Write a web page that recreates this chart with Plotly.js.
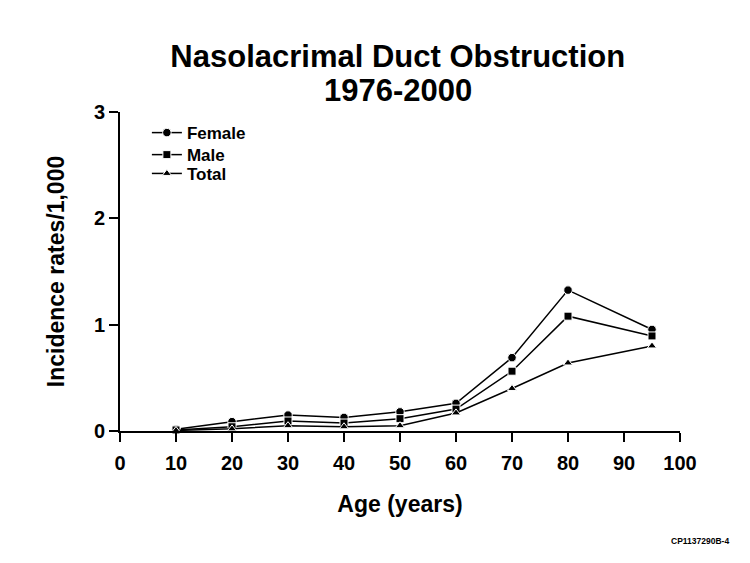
<!DOCTYPE html>
<html>
<head>
<meta charset="utf-8">
<script src="https://cdn.plot.ly/plotly-3.0.1.min.js"></script>
<style>html,body{margin:0;padding:0;background:#fff;}#chart{width:750px;height:563px;}</style>
</head>
<body>
<div id="chart"></div>
<script>
const ages = [10, 20, 30, 40, 50, 60, 70, 80, 95];
const female = [0.016, 0.088, 0.15, 0.128, 0.18, 0.26, 0.69, 1.325, 0.955];
const male = [0.01, 0.04, 0.094, 0.075, 0.116, 0.206, 0.5625, 1.08, 0.894];
const total = [0.005, 0.02, 0.05, 0.04, 0.05, 0.17, 0.40, 0.64, 0.80];
const xTicks = [0, 10, 20, 30, 40, 50, 60, 70, 80, 90, 100];
const yTicks = [0, 1, 2, 3];

const FONT = 'Liberation Sans, Arial, sans-serif';
function tr(name, y, symbol, size, legendId) {
  return {
    x: ages, y: y, name: '<b>' + name + '</b>', type: 'scatter', mode: 'lines+markers',
    line: {color: '#000', width: 1.5},
    marker: {symbol: symbol, size: size, color: '#000', line: {color: '#fff', width: 1}},
    cliponaxis: false, legend: legendId
  };
}
const data = [
  tr('Female', female, 'circle', 8.5, 'legend'),
  tr('Male', male, 'square', 8, 'legend2'),
  tr('Total', total, 'triangle-up', 8, 'legend3')
];
function leg(y) {
  return {x: 0.048, y: y, xanchor: 'left', yanchor: 'middle', bgcolor: 'rgba(0,0,0,0)',
    font: {size: 17, family: FONT}, borderwidth: 0};
}
const layout = {
  width: 750, height: 563,
  margin: {l: 120, r: 70, t: 112, b: 132},
  paper_bgcolor: '#fff', plot_bgcolor: '#fff',
  font: {family: FONT, color: '#000'},
  title: {text: '<b>Nasolacrimal Duct Obstruction</b>', font: {size: 31, family: FONT},
    xref: 'paper', x: 0.496, xanchor: 'center', yref: 'container', y: 0.9, yanchor: 'middle'},
  xaxis: {
    range: [0, 100], tickvals: xTicks, ticktext: xTicks.map(v => '<b>' + v + '</b>'),
    showgrid: false, zeroline: false, showline: true, linecolor: '#000', linewidth: 2,
    ticks: 'outside', ticklen: 9, tickwidth: 2, tickcolor: '#000', ticklabelstandoff: 4,
    tickfont: {size: 20, family: FONT},
    title: {text: '<b>Age (years)</b>', font: {size: 23, family: FONT}, standoff: 23}
  },
  yaxis: {
    range: [0, 3], tickvals: yTicks, ticktext: yTicks.map(v => '<b>' + v + '</b>'),
    showgrid: false, zeroline: false, showline: true, linecolor: '#000', linewidth: 2,
    ticks: 'outside', ticklen: 9, tickwidth: 2, tickcolor: '#000',
    tickfont: {size: 20, family: FONT},
    title: {text: '<b>Incidence rates/1,000</b>', font: {size: 23, family: FONT}, standoff: 23}
  },
  showlegend: true,
  legend: leg(0.934),
  legend2: leg(0.865),
  legend3: leg(0.806),
  annotations: [{
    text: '<b>1976-2000</b>', xref: 'paper', yref: 'paper', x: 0.496, y: 1.066,
    xanchor: 'center', yanchor: 'middle', showarrow: false, font: {size: 31, family: FONT}
  }, {
    text: '<b>CP1137290B-4</b>', xref: 'paper', yref: 'paper', x: 1.091, y: -0.345,
    xanchor: 'right', yanchor: 'middle', showarrow: false, font: {size: 8.5, family: FONT}
  }]
};
Plotly.newPlot('chart', data, layout, {displayModeBar: false});
</script>
</body>
</html>
